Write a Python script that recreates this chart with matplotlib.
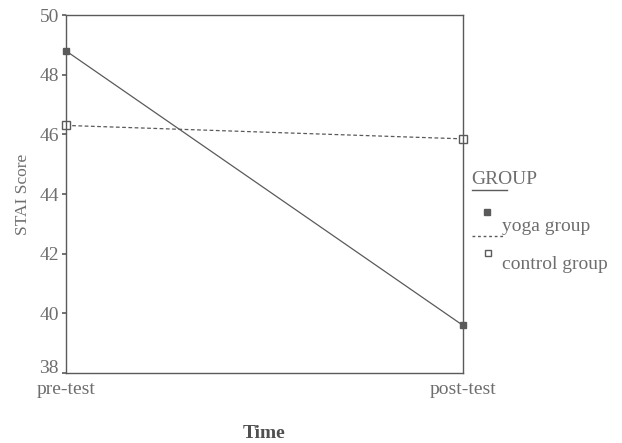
import matplotlib.pyplot as plt
from matplotlib.lines import Line2D

# Data
time_points = ['pre-test', 'post-test']
yoga_group = [48.8, 39.6]
control_group = [46.3, 45.85]
y_ticks = [38, 40, 42, 44, 46, 48, 50]

plt.rcParams['font.family'] = 'Liberation Serif'
text_color = '#6e6e6e'
line_color = '#5a5a5a'

fig = plt.figure(figsize=(6.22, 4.43), dpi=100)
ax = fig.add_axes([0.106, 0.158, 0.638, 0.808])

x = range(len(time_points))
ax.plot(x, yoga_group, color=line_color, linewidth=0.9, linestyle='-', clip_on=False,
        marker='s', markersize=4.5, markerfacecolor=line_color, markeredgecolor=line_color)
ax.plot(x, control_group, color=line_color, linewidth=0.9, linestyle=(0, (3, 2)), clip_on=False,
        marker='s', markersize=5.5, markerfacecolor='white', markeredgecolor=line_color)

ax.set_xlim(0, 1)
ax.set_ylim(38, 50)
ax.set_yticks(y_ticks)
ax.set_xticks(list(x))
ax.set_xticklabels(time_points)

ax.tick_params(axis='y', direction='out', length=3, width=1.2, colors=line_color,
               labelcolor=text_color, labelsize=14, pad=2)
ax.tick_params(axis='x', length=0, labelcolor=text_color, labelsize=14, pad=6)
# lowest label sits above its tick so it clears "pre-test"
ax.get_yticklabels()[0].set_va('baseline')
for sp in ax.spines.values():
    sp.set_color(line_color)
    sp.set_linewidth(1.0)

ax.set_ylabel('STAI Score', color=text_color, fontsize=12.5, labelpad=6)
ax.set_xlabel('Time', color='#505050', fontsize=14, fontweight='bold', labelpad=19)

# Legend drawn SPSS style outside the axes
fig.text(0.757, 0.585, 'GROUP', color=text_color, fontsize=14)
fig.add_artist(Line2D([0.759, 0.815], [0.571, 0.571], color=line_color, linewidth=1.0))
fig.add_artist(Line2D([0.783], [0.521], marker='s', markersize=4, color=line_color,
                      markerfacecolor=line_color, linestyle='none'))
fig.text(0.807, 0.478, 'yoga group', color=text_color, fontsize=14)
fig.add_artist(Line2D([0.759, 0.812], [0.467, 0.467], color=line_color, linewidth=1.0,
                      linestyle=(0, (2, 2))))
fig.add_artist(Line2D([0.785], [0.429], marker='s', markersize=5, color=line_color,
                      markerfacecolor='white', linestyle='none'))
fig.text(0.807, 0.392, 'control group', color=text_color, fontsize=14)

fig.savefig('out.png', dpi=100)
